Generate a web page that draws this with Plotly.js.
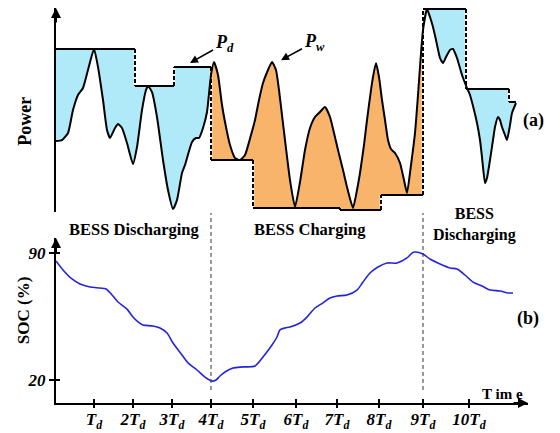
<!DOCTYPE html>
<html>
<head>
<meta charset="utf-8">
<script src="https://cdn.plot.ly/plotly-3.0.1.min.js"></script>
<style>html,body{margin:0;padding:0;background:#fff;}#chart{width:560px;height:433px;}</style>
</head>
<body>
<div id="chart"></div>
<script>
// ---- data (time in arbitrary units, 0 = origin) ----
const tickT = [38, 77, 116, 155, 197, 240, 281, 323, 367, 413];
const tickText = ['T', '2T', '3T', '4T', '5T', '6T', '7T', '8T', '9T', '10T'];

// wind power P_w
const powerT = [0,6,12,17,22,27,32,38,42,47,51,54,59,62,66,71,77,81,86,90,92,96,101,107,112,117,121,126,129,136,140,143,147,151,155,158,162,166,169,174,179,184,189,195,199,203,207,212,216,220,223,226,229,234,239,244,249,254,259,264,269,274,278,282,287,291,297,301,304,308,311,315,317,320,323,326,329,332,335,339,344,348,351,355,359,362,364,367,371,374,377,380,384,387,390,394,397,401,406,411,414,418,421,424,426,429,431,434,437,439,442,444,446,449,451,454,456,460];
const powerP = [71,72,79,102,117,124,142,163,145,112,82,74,84,88,84,69,48,65,102,122,126,120,95,52,22,3,12,39,47,70,74,74,84,100,137,150,137,107,90,67,54,52,57,77,92,112,129,142,150,142,122,97,72,32,5,30,62,84,95,100,105,95,79,62,42,25,4,22,39,67,92,122,135,149,135,112,92,72,63,59,49,32,19,47,79,117,145,182,203,195,185,172,154,149,155,162,163,154,137,124,117,102,89,72,55,29,34,52,72,85,95,92,85,77,72,87,99,109];

// demand power P_d (step profile, corner points)
const stepT = [0,79,79,118,118,155,155,197,197,284,284,325,325,367,367,410,410,453,453,460];
const stepP = [163,163,126,126,145,145,52,52,4,4,2,2,17,17,203,203,123,123,110,110];

// region boundaries and mode (discharging / charging)
const regionBounds = [0, 155, 367, 460];
const regionMode = ['discharge', 'charge', 'discharge'];

// SOC (%)
const socT = [0,7,16,24,34,44,50,56,62,71,77,82,87,97,104,111,117,126,132,141,149,156,160,164,169,177,187,199,207,216,221,224,229,234,244,251,259,267,274,281,291,301,307,314,322,331,341,351,356,359,367,374,384,394,401,409,417,426,434,444,452,457];
const socV = [85.6,80.7,75.7,72.9,71.3,70.7,70.2,66.9,63.0,59.1,54.7,52.0,50.3,49.8,48.7,45.9,40.4,33.8,29.4,25.5,21.6,19.4,20.0,22.2,24.4,26.6,27.2,27.7,32.7,39.3,43.7,47.6,48.7,49.2,51.4,54.7,59.7,62.5,65.2,66.3,66.9,69.6,74.0,79.0,82.3,84.5,84.5,87.3,90.0,90.6,89.5,86.7,84.0,81.8,81.2,77.9,74.0,71.8,69.6,69.1,68.0,68.0];
const socTicks = [20, 90];

// ---- styles ----
const BLUE_FILL = '#b0e9f8';
const ORANGE_FILL = '#f9b46c';
const SOC_COLOR = '#2424e0';
const SERIF = 'Liberation Serif, Times New Roman, serif';

const traces = [];

// fill polygons between P_w and P_d
function stepSub(a, b) {
  let ia = 0; for (let i = 0; i < stepT.length; i++) if (stepT[i] <= a) ia = i;
  let ib = stepT.length - 1; for (let i = stepT.length - 1; i >= 0; i--) if (stepT[i] >= b) ib = i;
  const xs = [], ys = [];
  for (let i = ia; i <= ib; i++) { xs.push(stepT[i]); ys.push(stepP[i]); }
  return {xs, ys};
}
for (let r = 0; r < regionMode.length; r++) {
  const a = regionBounds[r], b = regionBounds[r + 1];
  const xs = [], ys = [];
  powerT.forEach((t, i) => { if (t >= a && t <= b) { xs.push(t); ys.push(powerP[i]); } });
  const s = stepSub(a, b);
  for (let i = s.xs.length - 1; i >= 0; i--) { xs.push(s.xs[i]); ys.push(s.ys[i]); }
  traces.push({
    x: xs, y: ys, yaxis: 'y2', mode: 'lines', fill: 'toself',
    fillcolor: regionMode[r] === 'discharge' ? BLUE_FILL : ORANGE_FILL,
    line: {width: 0, color: 'rgba(0,0,0,0)'}, hoverinfo: 'skip'
  });
}

// P_d horizontal (solid) and vertical (dashed) parts
const hx = [], hy = [], vx = [], vy = [];
for (let i = 0; i < stepT.length - 1; i++) {
  if (stepT[i] === stepT[i + 1]) { vx.push(stepT[i], stepT[i + 1], null); vy.push(stepP[i], stepP[i + 1], null); }
  else { hx.push(stepT[i], stepT[i + 1], null); hy.push(stepP[i], stepP[i + 1], null); }
}
traces.push({x: vx, y: vy, yaxis: 'y2', mode: 'lines', line: {color: '#ffffff', width: 2.5}, hoverinfo: 'skip'});
traces.push({x: vx, y: vy, yaxis: 'y2', mode: 'lines', line: {color: '#000000', width: 2, dash: '4px,2px'}, hoverinfo: 'skip'});
traces.push({x: hx, y: hy, yaxis: 'y2', mode: 'lines', line: {color: '#000000', width: 2}, hoverinfo: 'skip'});

// P_w curve
traces.push({x: powerT, y: powerP, yaxis: 'y2', mode: 'lines', line: {color: '#000000', width: 2, shape: 'spline', smoothing: 0.5}, hoverinfo: 'skip'});

// SOC curve
traces.push({x: socT, y: socV, yaxis: 'y', mode: 'lines', line: {color: SOC_COLOR, width: 1.6, shape: 'spline', smoothing: 0.8}, hoverinfo: 'skip'});

// empty traces so the overlay axes (crossing tick halves) exist
traces.push({x: [], y: [], xaxis: 'x3', yaxis: 'y', mode: 'lines', hoverinfo: 'skip'});
traces.push({x: [], y: [], xaxis: 'x', yaxis: 'y3', mode: 'lines', hoverinfo: 'skip'});

const bi = s => '<b><i>' + s + '</i></b>';
const txt = (o) => Object.assign({showarrow: false, xanchor: 'center', yanchor: 'middle'}, o);

const layout = {
  width: 560, height: 433, autosize: false,
  margin: {l: 56, r: 32, t: 8, b: 30},
  paper_bgcolor: '#ffffff', plot_bgcolor: '#ffffff',
  showlegend: false,
  xaxis: {
    range: [0, 472], showgrid: false, zeroline: false,
    showline: true, linecolor: '#000', linewidth: 2,
    ticks: 'inside', ticklen: 4, tickwidth: 2, tickcolor: '#000',
    tickvals: tickT, ticktext: tickText.map(s => bi(s + '<sub>d</sub>')),
    tickfont: {family: SERIF, size: 17, color: '#000'},
    anchor: 'y'
  },
  xaxis3: {
    range: [0, 472], overlaying: 'x', anchor: 'y', showgrid: false, zeroline: false, showline: false,
    ticks: 'outside', ticklen: 4, tickwidth: 2, tickcolor: '#000',
    tickvals: tickT, showticklabels: false
  },
  yaxis: {
    domain: [0, 0.4177], range: [7.3, 98.3], showgrid: false, zeroline: false,
    showline: true, linecolor: '#000', linewidth: 2,
    ticks: 'outside', ticklen: 5, tickwidth: 2, tickcolor: '#000',
    tickvals: socTicks, ticktext: socTicks.map(v => bi(String(v))),
    tickfont: {family: SERIF, size: 17, color: '#000'}
  },
  yaxis3: {
    range: [7.3, 98.3], overlaying: 'y', anchor: 'x', showgrid: false, zeroline: false, showline: false,
    ticks: 'inside', ticklen: 4, tickwidth: 2, tickcolor: '#000',
    tickvals: socTicks, showticklabels: false
  },
  yaxis2: {
    domain: [0.4835, 1], range: [0, 204], showgrid: false, zeroline: false,
    showline: true, linecolor: '#000', linewidth: 2,
    showticklabels: false, ticks: '', anchor: 'x'
  },
  shapes: [tickT[3], tickT[8]].map(t => ({
    type: 'line', xref: 'x', yref: 'paper', x0: t, x1: t, y0: 0.033, y1: 0.481,
    line: {color: '#333', width: 1, dash: '4px,3px'}
  })),
  annotations: [
    // axis arrows
    {xref: 'x', yref: 'y2', x: 0, y: 204, ax: 0, ay: 16, showarrow: true, arrowhead: 2, arrowsize: 1, arrowwidth: 2, arrowcolor: '#000', text: ''},
    {xref: 'x', yref: 'y', x: 0, y: 98.3, ax: 0, ay: 16, showarrow: true, arrowhead: 2, arrowsize: 1, arrowwidth: 2, arrowcolor: '#000', text: ''},
    {xref: 'x', yref: 'y', x: 472, y: 7.3, ax: -16, ay: 0, showarrow: true, arrowhead: 2, arrowsize: 1, arrowwidth: 2, arrowcolor: '#000', text: ''},
    // axis titles
    txt({xref: 'paper', yref: 'paper', x: -0.066, y: 0.714, text: '<b>Power</b>', textangle: -90, font: {family: SERIF, size: 18, color: '#000'}}),
    txt({xref: 'paper', yref: 'paper', x: -0.07, y: 0.235, text: '<b>SOC (%)</b>', textangle: -90, font: {family: SERIF, size: 17, color: '#000'}}),
    // region labels
    txt({xref: 'x', yref: 'paper', x: 78, y: 0.4405, text: '<b>BESS Discharging</b>', font: {family: SERIF, size: 16.5, color: '#000'}}),
    txt({xref: 'x', yref: 'paper', x: 254, y: 0.4405, text: '<b>BESS Charging</b>', font: {family: SERIF, size: 16.5, color: '#000'}}),
    txt({xref: 'x', yref: 'paper', x: 418, y: 0.452, text: '<b>BESS<br>Discharging</b>', font: {family: SERIF, size: 16, color: '#000'}}),
    // panel labels
    txt({xref: 'paper', yref: 'paper', x: 1.0106, y: 0.714, text: '<b>(a)</b>', font: {family: SERIF, size: 18, color: '#000'}}),
    txt({xref: 'paper', yref: 'paper', x: 1.0, y: 0.2127, text: '<b>(b)</b>', font: {family: SERIF, size: 18, color: '#000'}}),
    txt({xref: 'x', yref: 'paper', x: 446, y: 0.0228, text: '<b>T im e</b>', font: {family: SERIF, size: 15, color: '#000'}}),
    // P_d and P_w labels with arrows
    {xref: 'x', yref: 'paper', x: 134, y: 0.861, ax: 34, ay: -19, showarrow: true, arrowhead: 2, arrowsize: 1, arrowwidth: 1.6, arrowcolor: '#000', standoff: 0, text: bi('P<sub>d</sub>'), font: {family: SERIF, size: 18, color: '#000'}},
    {xref: 'x', yref: 'paper', x: 225, y: 0.868, ax: 33, ay: -18, showarrow: true, arrowhead: 2, arrowsize: 1, arrowwidth: 1.6, arrowcolor: '#000', standoff: 0, text: bi('P<sub>w</sub>'), font: {family: SERIF, size: 18, color: '#000'}}
  ]
};

Plotly.newPlot('chart', traces, layout, {displayModeBar: false, staticPlot: true});
</script>
</body>
</html>
